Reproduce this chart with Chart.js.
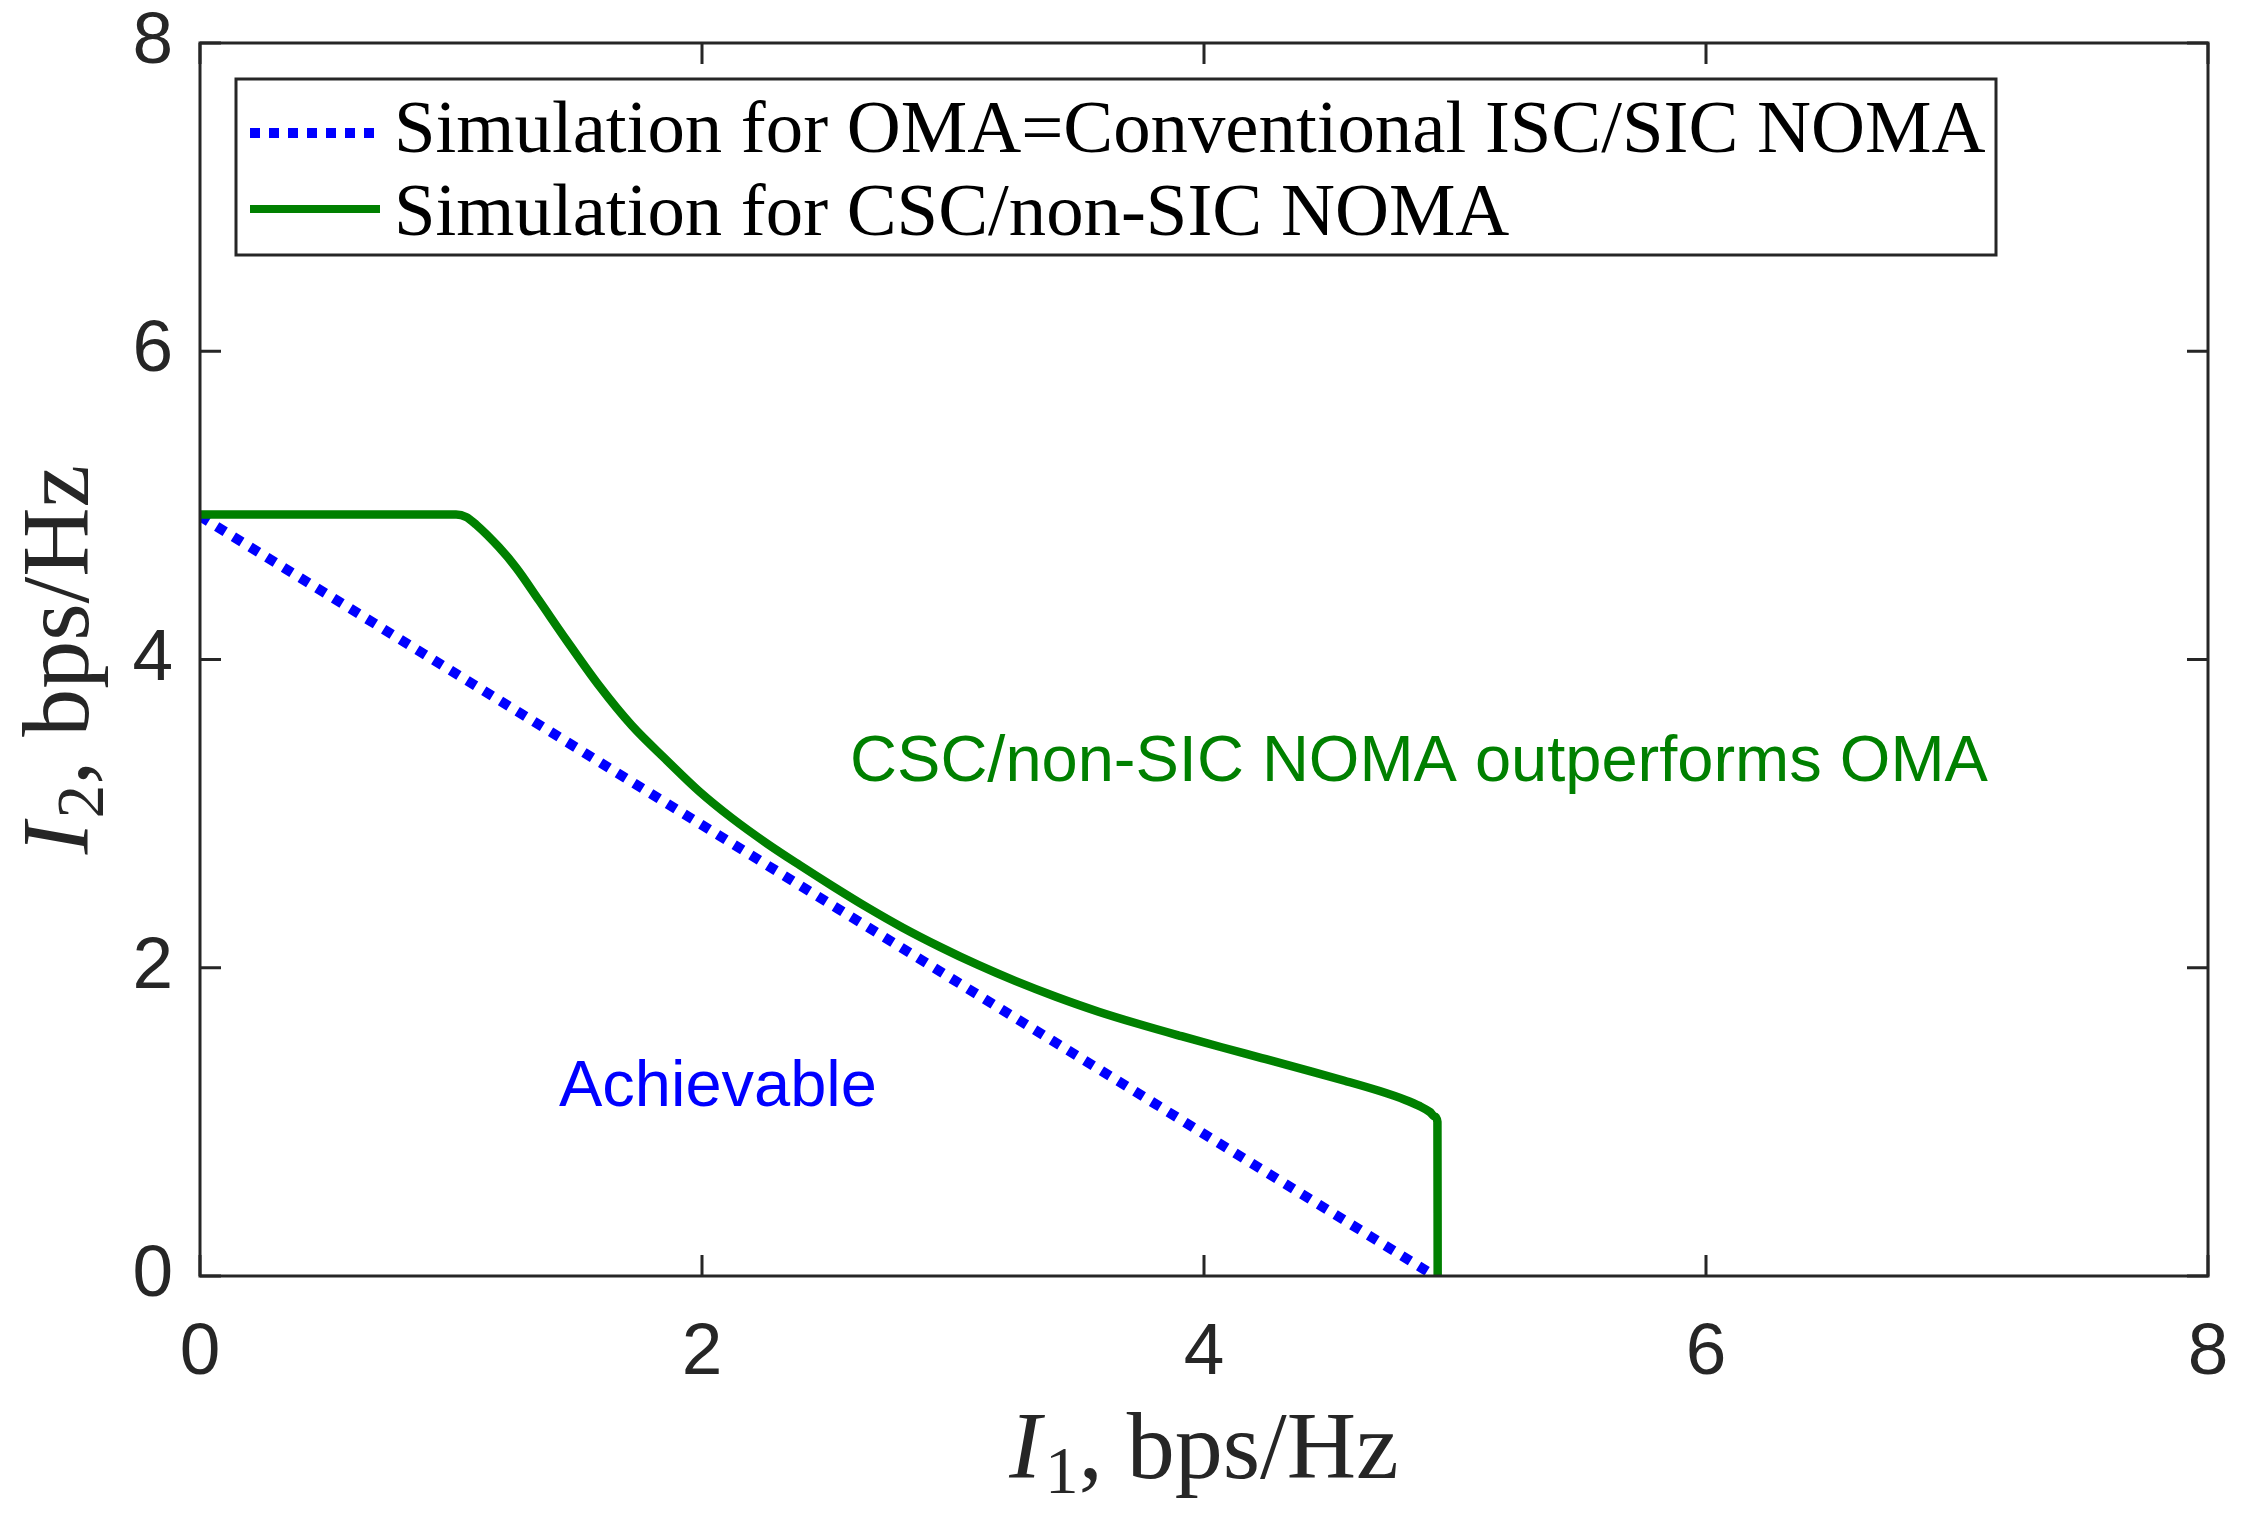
<!DOCTYPE html>
<html>
<head>
<meta charset="utf-8">
<script src="https://cdn.jsdelivr.net/npm/chart.js@4.4.1/dist/chart.umd.min.js"></script>
<style>
  html, body { margin: 0; padding: 0; background: #fff; }
  canvas { display: block; }
</style>
</head>
<body>
<canvas id="chart" width="2247" height="1523"></canvas>
<script>
// OMA = conventional ISC/SIC NOMA boundary
const omaX = [0, 4.92];
const omaY = [4.93, 0];

// CSC/non-SIC NOMA boundary
const cscX = [0, 0.5, 1.02, 1.06, 1.10, 1.19, 1.26, 1.35, 1.46, 1.59, 1.72, 1.86, 1.99, 2.12, 2.26, 2.39, 2.52, 2.66, 2.80, 2.95, 3.10, 3.25, 3.41, 3.58, 3.74, 3.91, 4.07, 4.23, 4.40, 4.56, 4.70, 4.80, 4.86, 4.90, 4.92, 4.93, 4.931];
const cscY = [4.94, 4.94, 4.94, 4.925, 4.875, 4.73, 4.595, 4.385, 4.125, 3.83, 3.572, 3.345, 3.143, 2.97, 2.805, 2.665, 2.53, 2.39, 2.26, 2.134, 2.018, 1.913, 1.812, 1.715, 1.635, 1.556, 1.484, 1.414, 1.339, 1.267, 1.20, 1.144, 1.102, 1.064, 1.034, 1.0, 0];

const xTicks = [0, 2, 4, 6, 8];
const yTicks = [0, 2, 4, 6, 8];

const legendLabels = [
  "Simulation for OMA=Conventional ISC/SIC NOMA",
  "Simulation for CSC/non-SIC NOMA"
];

const axisColor = "#262626";
const green = "#008000";
const blue = "#0000ff";
const serif = "'Liberation Serif', 'Times New Roman', serif";
const sans = "'Liberation Sans', Arial, Helvetica, sans-serif";

const toPoints = (xs, ys) => xs.map((x, i) => ({ x: x, y: ys[i] }));

// font size that makes text fill a given width
function fitSize(ctx, text, family, style, width) {
  ctx.font = `${style} 100px ${family}`;
  return 100 * width / ctx.measureText(text).width;
}

// I_n, bps/Hz  (italic I, subscript digit)
function drawRateLabel(ctx, sub, size) {
  const rest = ", bps/Hz";
  const subSize = size * 0.7;
  ctx.font = `italic ${size}px ${serif}`;
  const wI = ctx.measureText("I").width + size * 0.04;
  ctx.font = `${subSize}px ${serif}`;
  const wSub = ctx.measureText(sub).width;
  ctx.font = `${size}px ${serif}`;
  const wRest = ctx.measureText(rest).width;
  let x = -(wI + wSub + wRest) / 2;
  ctx.textAlign = "left";
  ctx.textBaseline = "alphabetic";
  ctx.font = `italic ${size}px ${serif}`;
  ctx.fillText("I", x, 0);
  x += wI;
  ctx.font = `${subSize}px ${serif}`;
  ctx.fillText(sub, x, size * 0.16);
  x += wSub;
  ctx.font = `${size}px ${serif}`;
  ctx.fillText(rest, x, 0);
}

const matlabFrame = {
  id: "matlabFrame",
  afterDatasetsDraw(chart) {
    const { ctx, chartArea: a, scales } = chart;
    const xs = scales.x, ys = scales.y;
    const tick = 21;
    ctx.save();

    // box and inward ticks
    ctx.strokeStyle = axisColor;
    ctx.lineWidth = 3;
    ctx.strokeRect(a.left, a.top, a.right - a.left, a.bottom - a.top);
    ctx.beginPath();
    xTicks.forEach(v => {
      const px = xs.getPixelForValue(v);
      ctx.moveTo(px, a.bottom); ctx.lineTo(px, a.bottom - tick);
      ctx.moveTo(px, a.top); ctx.lineTo(px, a.top + tick);
    });
    yTicks.forEach(v => {
      const py = ys.getPixelForValue(v);
      ctx.moveTo(a.left, py); ctx.lineTo(a.left + tick, py);
      ctx.moveTo(a.right, py); ctx.lineTo(a.right - tick, py);
    });
    ctx.stroke();

    // annotations
    ctx.font = `65px ${sans}`;
    ctx.textAlign = "left";
    ctx.textBaseline = "alphabetic";
    ctx.fillStyle = green;
    ctx.fillText("CSC/non-SIC NOMA outperforms OMA", xs.getPixelForValue(2.59), ys.getPixelForValue(3.21));
    ctx.fillStyle = blue;
    ctx.fillText("Achievable", xs.getPixelForValue(1.43), ys.getPixelForValue(1.10));

    // legend
    const box = { left: 236, top: 79, right: 1996, bottom: 255 };
    ctx.fillStyle = "#fff";
    ctx.fillRect(box.left, box.top, box.right - box.left, box.bottom - box.top);
    ctx.strokeStyle = axisColor;
    ctx.lineWidth = 3;
    ctx.strokeRect(box.left, box.top, box.right - box.left, box.bottom - box.top);

    ctx.lineCap = "butt";
    ctx.lineWidth = 10;
    ctx.strokeStyle = blue;
    ctx.setLineDash([10, 9]);
    ctx.beginPath(); ctx.moveTo(250, 133); ctx.lineTo(380, 133); ctx.stroke();
    ctx.setLineDash([]);
    ctx.lineWidth = 8;
    ctx.strokeStyle = green;
    ctx.beginPath(); ctx.moveTo(250, 209); ctx.lineTo(380, 209); ctx.stroke();

    const legSize = Math.min(86, fitSize(ctx, legendLabels[0], serif, "", 1592));
    ctx.font = `${legSize}px ${serif}`;
    ctx.fillStyle = "#000";
    ctx.fillText(legendLabels[0], 394, 152);
    ctx.fillText(legendLabels[1], 394, 235);

    // axis titles
    ctx.fillStyle = axisColor;
    ctx.save();
    ctx.translate(xs.getPixelForValue(4), 1478);
    drawRateLabel(ctx, "1", 96);
    ctx.restore();
    ctx.save();
    ctx.translate(88, ys.getPixelForValue(4));
    ctx.rotate(-Math.PI / 2);
    drawRateLabel(ctx, "2", 96);
    ctx.restore();

    ctx.restore();
  }
};

const tickFont = { family: sans, size: 73 };

new Chart(document.getElementById("chart"), {
  type: "scatter",
  data: {
    datasets: [
      {
        label: legendLabels[0],
        data: toPoints(omaX, omaY),
        showLine: true,
        borderColor: blue,
        borderWidth: 10,
        borderDash: [10, 9.6],
        borderCapStyle: "butt",
        pointRadius: 0,
        order: 2
      },
      {
        label: legendLabels[1],
        data: toPoints(cscX, cscY),
        showLine: true,
        borderColor: green,
        borderWidth: 8.5,
        borderJoinStyle: "round",
        cubicInterpolationMode: "monotone",
        pointRadius: 0,
        order: 1
      }
    ]
  },
  options: {
    responsive: false,
    devicePixelRatio: 1,
    animation: false,
    layout: { padding: { top: 43, right: 39, left: 0, bottom: 0 } },
    plugins: { legend: { display: false }, tooltip: { enabled: false } },
    scales: {
      x: {
        type: "linear",
        min: 0, max: 8,
        afterFit: s => { s.height = 247; s.paddingLeft = 0; s.paddingRight = 0; },
        afterBuildTicks: s => { s.ticks = xTicks.map(v => ({ value: v })); },
        grid: { display: false, drawTicks: false },
        border: { display: false },
        ticks: { font: tickFont, color: axisColor, padding: 34 }
      },
      y: {
        type: "linear",
        min: 0, max: 8,
        afterFit: s => { s.width = 200; s.paddingTop = 0; s.paddingBottom = 0; },
        afterBuildTicks: s => { s.ticks = yTicks.map(v => ({ value: v })); },
        grid: { display: false, drawTicks: false },
        border: { display: false },
        ticks: { font: tickFont, color: axisColor, padding: 27 }
      }
    }
  },
  plugins: [matlabFrame]
});
</script>
</body>
</html>
